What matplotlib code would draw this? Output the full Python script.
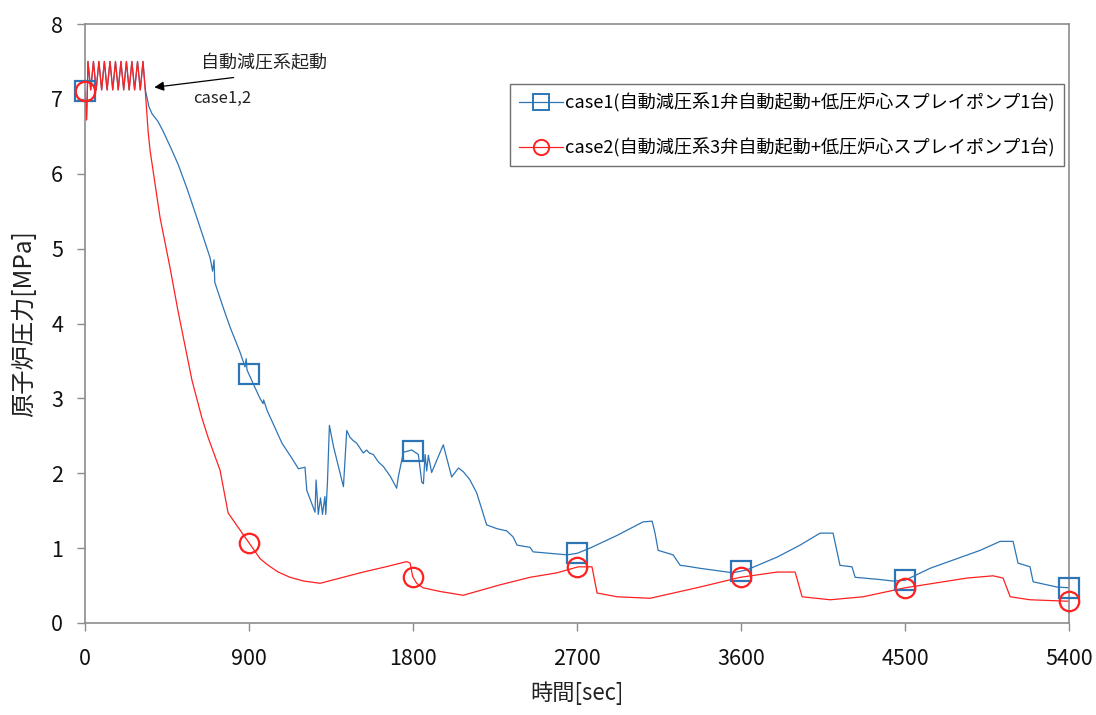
import numpy as np
import matplotlib
matplotlib.use("Agg")
import matplotlib.pyplot as plt

plt.rcParams['font.family'] = ['Noto Sans CJK JP', 'DejaVu Sans']

# Common trace before depressurization (both cases identical)
t_pre = [0, 8, 12, 16, 31, 46, 61, 76, 91, 106, 121, 137, 152, 167, 182,
         197, 212, 227, 242, 257, 272, 288, 303, 318, 330]
p_pre = [7.10, 6.72, 7.05, 7.50, 7.12, 7.50, 7.12, 7.50, 7.12, 7.50, 7.12,
         7.50, 7.12, 7.50, 7.12, 7.50, 7.12, 7.50, 7.12, 7.50, 7.12, 7.50,
         7.12, 7.50, 7.13]

# case1: 1 ADS valve
t_case1 = [350, 368, 400, 428, 470, 510, 560, 614, 686, 700, 708, 712, 760,
           796, 850, 878, 884, 889, 922, 960, 977, 980, 999, 1040, 1081,
           1130, 1171, 1207, 1217, 1262, 1268, 1280, 1292, 1303, 1316, 1321,
           1330, 1341, 1363, 1418, 1436, 1454, 1470, 1491, 1510, 1527, 1545,
           1560, 1582, 1610, 1637, 1675, 1710, 1719, 1738, 1747, 1793, 1829,
           1848, 1857, 1866, 1875, 1884, 1902, 1966, 2012, 2049, 2076, 2110,
           2149, 2204, 2260, 2314, 2349, 2371, 2442, 2459, 2550, 2645, 2700,
           2771, 2920, 3062, 3112, 3128, 3145, 3227, 3266, 3300, 3375, 3556,
           3633, 3798, 3924, 4034, 4105, 4143, 4209, 4226, 4363, 4434, 4500,
           4637, 4912, 5022, 5093, 5120, 5186, 5203, 5334, 5400]
p_case1 = [6.90, 6.80, 6.70, 6.57, 6.35, 6.13, 5.80, 5.41, 4.88, 4.70, 4.85,
           4.55, 4.20, 3.95, 3.62, 3.42, 3.53, 3.38, 3.20, 3.00, 2.93, 2.98,
           2.84, 2.62, 2.40, 2.22, 2.06, 2.08, 1.77, 1.48, 1.91, 1.45, 1.67,
           1.45, 1.69, 1.45, 1.86, 2.64, 2.36, 1.82, 2.57, 2.48, 2.44, 2.40,
           2.33, 2.27, 2.31, 2.27, 2.25, 2.15, 2.09, 1.96, 1.80, 1.95, 2.17,
           2.28, 2.31, 2.25, 1.88, 1.86, 2.25, 2.03, 2.24, 2.01, 2.38, 1.95,
           2.07, 2.02, 1.92, 1.74, 1.31, 1.26, 1.23, 1.15, 1.04, 1.01, 0.95,
           0.93, 0.91, 0.93, 1.00, 1.17, 1.35, 1.36, 1.20, 0.97, 0.91, 0.77,
           0.76, 0.73, 0.67, 0.71, 0.88, 1.04, 1.20, 1.20, 0.77, 0.75, 0.61,
           0.58, 0.56, 0.57, 0.73, 0.97, 1.09, 1.09, 0.80, 0.75, 0.55, 0.48,
           0.47]

# case2: 3 ADS valves
t_case2 = [346, 357, 385, 412, 466, 510, 587, 640, 675, 741, 785, 851, 900,
           960, 1000, 1060, 1125, 1200, 1290, 1400, 1526, 1650, 1765, 1784,
           1798, 1820, 1855, 1950, 2075, 2278, 2442, 2590, 2706, 2782, 2810,
           2920, 3101, 3375, 3595, 3798, 3897, 3935, 4089, 4270, 4500, 4840,
           4983, 5038, 5077, 5186, 5400]
p_case2 = [6.57, 6.31, 5.85, 5.41, 4.75, 4.17, 3.24, 2.75, 2.48, 2.04, 1.47,
           1.24, 1.07, 0.86, 0.78, 0.68, 0.61, 0.56, 0.53, 0.60, 0.68, 0.75,
           0.82, 0.80, 0.62, 0.53, 0.47, 0.42, 0.37, 0.51, 0.61, 0.67, 0.75,
           0.75, 0.40, 0.35, 0.33, 0.48, 0.61, 0.68, 0.68, 0.35, 0.31, 0.35,
           0.47, 0.60, 0.63, 0.60, 0.35, 0.31, 0.29]

marker_times = [0, 900, 1800, 2700, 3600, 4500, 5400]
x_ticks = [0, 900, 1800, 2700, 3600, 4500, 5400]
y_ticks = [0, 1, 2, 3, 4, 5, 6, 7, 8]

label1 = "case1(自動減圧系1弁自動起動+低圧炉心スプレイポンプ1台)"
label2 = "case2(自動減圧系3弁自動起動+低圧炉心スプレイポンプ1台)"

t1 = np.array(t_pre + t_case1, dtype=float)
p1 = np.array(p_pre + p_case1)
t2 = np.array(t_pre + t_case2, dtype=float)
p2 = np.array(p_pre + p_case2)

blue = "#2E75B6"
red = "#FF2020"
grey = "#8C8C8C"

fig = plt.figure(figsize=(10.96, 7.15), dpi=100)
ax = fig.add_axes([0.0776, 0.1287, 0.8978, 0.8377])

ax.plot(t1, p1, color=blue, lw=0.9)
ax.plot(t2, p2, color=red, lw=0.9)
mt = np.array(marker_times, dtype=float)
ax.plot(mt, np.interp(mt, t1, p1), ls="none", marker="s", ms=14,
        mfc="none", mec=blue, mew=1.6, clip_on=False, zorder=4)
ax.plot(mt, np.interp(mt, t2, p2), ls="none", marker="o", ms=14,
        mfc="none", mec=red, mew=1.6, clip_on=False, zorder=4)

# legend proxies: line with marker
h1, = ax.plot([], [], color=blue, lw=0.9, marker="s", ms=11, mfc="none",
              mec=blue, mew=1.4)
h2, = ax.plot([], [], color=red, lw=0.9, marker="o", ms=11, mfc="none",
              mec=red, mew=1.4)
leg = ax.legend([h1, h2], [label1, label2], loc="upper right",
                bbox_to_anchor=(0.9949, 0.90), borderaxespad=0,
                fontsize=13.1, handlelength=2.4, handletextpad=0.15,
                borderpad=0.5, labelspacing=1.4, fancybox=False,
                framealpha=1)
leg.get_frame().set_edgecolor("#707070")
leg.get_frame().set_linewidth(1.0)

ax.annotate("", xy=(365, 7.15), xytext=(830, 7.29),
            arrowprops=dict(arrowstyle="-|>", color="black", lw=0.9,
                            mutation_scale=14))
ax.text(982, 7.48, "自動減圧系起動", fontsize=13, ha="center", va="center",
        color="#222222")
ax.text(752, 7.01, "case1,2", fontsize=12, ha="center", va="center",
        color="#222222")

ax.set_xlim(0, 5400)
ax.set_ylim(0, 8)
ax.set_xticks(x_ticks)
ax.set_yticks(y_ticks)
ax.tick_params(direction="out", length=5.8, width=1.0, color=grey,
               labelsize=15.5, labelcolor="#111111")
ax.tick_params(axis="x", pad=12)
ax.tick_params(axis="y", pad=10)
for s in ax.spines.values():
    s.set_color(grey)
    s.set_linewidth(1.2)

ax.set_xlabel("時間[sec]", fontsize=16, labelpad=8, color="#222222")
ax.set_ylabel("原子炉圧力[MPa]", fontsize=17.5, labelpad=10, color="#222222")

fig.savefig("out.png", dpi=100)
